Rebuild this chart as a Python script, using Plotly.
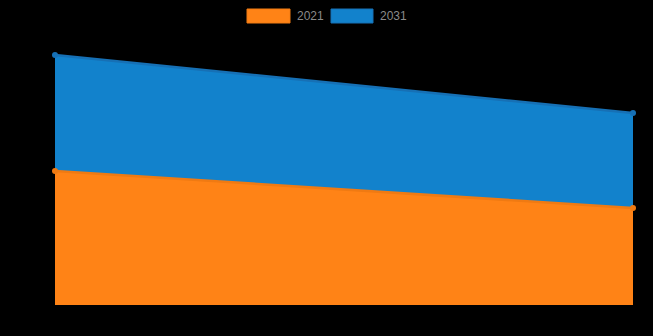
import plotly.graph_objects as go

categories = ["A", "B"]
series_names = ["2021", "2031"]
series_2021 = [13.4, 9.7]
series_2031 = [11.6, 9.5]
fill_colors = ["#FF8316", "#1282CC"]
line_colors = ["#F07A12", "#1670B5"]

W, H = 653, 336
ML, MR, MT, MB = 55, 20, 30, 31
PW, PH = W - ML - MR, H - MT - MB

fig = go.Figure()
for name, vals, fc, lc in zip(series_names, [series_2021, series_2031], fill_colors, line_colors):
    fig.add_trace(go.Scatter(
        x=[0, 1], y=vals, name=name, stackgroup="one", mode="lines+markers",
        line=dict(color=lc, width=2.5), marker=dict(size=6, color=lc),
        fillcolor=fc, cliponaxis=False, showlegend=False,
    ))

# custom legend (boxes + labels) in the top margin
def px_x(p):
    return (p - ML) / PW

def px_y(p):
    return (H - MB - p) / PH

legend_items = [(247, 290, 295), (331, 373, 378)]
for (x0, x1, tx), name, fc, lc in zip(legend_items, series_names, fill_colors, line_colors):
    fig.add_shape(type="rect", xref="paper", yref="paper",
                  x0=px_x(x0), x1=px_x(x1), y0=px_y(23), y1=px_y(9),
                  fillcolor=fc, line=dict(color=lc, width=1))
    fig.add_annotation(xref="paper", yref="paper", x=px_x(tx), y=px_y(16),
                       xanchor="left", yanchor="middle", text=name, showarrow=False,
                       font=dict(color="#8a8a8a", size=12, family="Arial"))

fig.update_layout(
    width=W, height=H, paper_bgcolor="black", plot_bgcolor="black",
    margin=dict(l=ML, r=MR, t=MT, b=MB, autoexpand=False),
    showlegend=False,
    xaxis=dict(range=[0, 1], showgrid=False, zeroline=False, showticklabels=False,
               tickvals=[0, 1], ticktext=categories, showline=False),
    yaxis=dict(range=[0, 27.5], showgrid=False, zeroline=False, showticklabels=False, showline=False),
)
fig.write_html("out.html")
